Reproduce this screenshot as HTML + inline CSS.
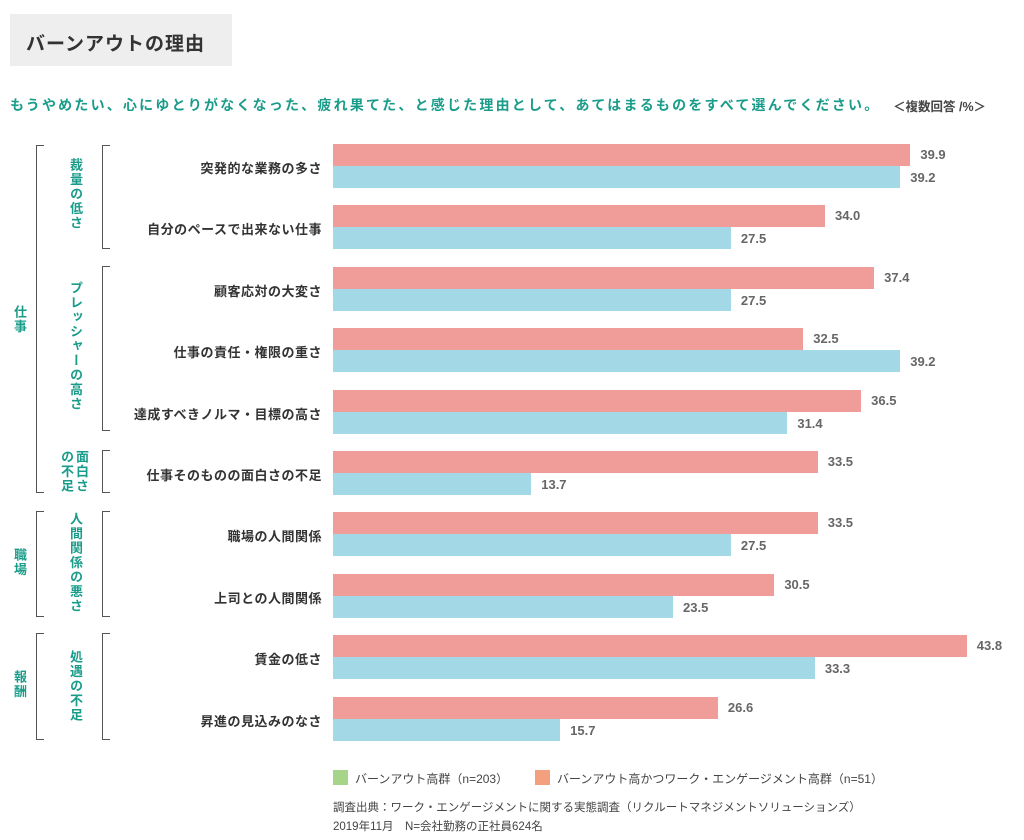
<!DOCTYPE html><html><head><meta charset="utf-8"><style>
body{margin:0;width:1024px;height:840px;background:#fff;font-family:"Liberation Sans","Noto Sans CJK JP",sans-serif;position:relative;overflow:hidden}
.a{position:absolute;white-space:nowrap}
.t{color:#1a9c8a;font-weight:bold}
.v{writing-mode:vertical-rl;text-orientation:upright;color:#1a9c8a;font-weight:bold;font-size:13px;letter-spacing:1.5px;position:absolute;line-height:15px}
.lab{position:absolute;right:702px;font-size:13px;font-weight:bold;color:#333;text-align:right;letter-spacing:0.5px}
.bar{position:absolute;left:333px;height:22px}
.p{background:#f09c98}.b{background:#a3d9e6}
.n{position:absolute;font-size:13px;font-weight:bold;color:#666}
.br{position:absolute;border:1.5px solid #555;border-right:none;width:7px}
</style></head><body>
<div class="a" style="left:10px;top:14px;width:222px;height:52px;background:#eeeeee"></div>
<div class="a" style="left:26px;top:29px;font-size:19px;font-weight:bold;color:#333;letter-spacing:1px">バーンアウトの理由</div>
<div class="a t" style="left:10px;top:95px;font-size:14px;letter-spacing:2.2px">もうやめたい、心にゆとりがなくなった、疲れ果てた、と感じた理由として、あてはまるものをすべて選んでください。</div>
<div class="a" style="left:893px;top:96px;font-size:12.5px;font-weight:bold;color:#444">＜複数回答 /%＞</div>

<div class="br" style="left:36px;top:145px;height:346px"></div>
<div class="br" style="left:36px;top:511px;height:104px"></div>
<div class="br" style="left:36px;top:633px;height:105px"></div>
<div class="br" style="left:102px;top:145px;height:102px"></div>
<div class="br" style="left:102px;top:266px;height:163px"></div>
<div class="br" style="left:102px;top:450px;height:41px"></div>
<div class="br" style="left:102px;top:511px;height:104px"></div>
<div class="br" style="left:102px;top:633px;height:105px"></div>

<div class="v" style="left:12px;top:305px">仕事</div>
<div class="v" style="left:12px;top:548px">職場</div>
<div class="v" style="left:12px;top:670px">報酬</div>
<div class="v" style="left:68px;top:158px">裁量の低さ</div>
<div class="v" style="left:68px;top:281px">プレッシャーの高さ</div>
<div class="v" style="left:59px;top:450px;height:46px">面白さの不足</div>
<div class="v" style="left:68px;top:512px">人間関係の悪さ</div>
<div class="v" style="left:68px;top:650px">処遇の不足</div>

<div id="rows"></div>
<script>
var d=[["突発的な業務の多さ",39.9,39.2],["自分のペースで出来ない仕事",34.0,27.5],["顧客応対の大変さ",37.4,27.5],["仕事の責任・権限の重さ",32.5,39.2],["達成すべきノルマ・目標の高さ",36.5,31.4],["仕事そのものの面白さの不足",33.5,13.7],["職場の人間関係",33.5,27.5],["上司との人間関係",30.5,23.5],["賃金の低さ",43.8,33.3],["昇進の見込みのなさ",26.6,15.7]];
var h="",s=14.47;
d.forEach(function(r,i){var y=144+i*61.4;
h+='<div class="lab" style="top:'+(y+14)+'px">'+r[0]+'</div>';
h+='<div class="bar p" style="top:'+y+'px;width:'+(r[1]*s)+'px"></div>';
h+='<div class="bar b" style="top:'+(y+22)+'px;width:'+(r[2]*s)+'px"></div>';
h+='<div class="n" style="top:'+(y+3)+'px;left:'+(333+r[1]*s+10)+'px">'+r[1].toFixed(1)+'</div>';
h+='<div class="n" style="top:'+(y+26)+'px;left:'+(333+r[2]*s+10)+'px">'+r[2].toFixed(1)+'</div>';});
document.getElementById("rows").innerHTML=h;
</script>
<div class="a" style="left:333px;top:770px;width:15px;height:15px;background:#a6d58a"></div>
<div class="a" style="left:355px;top:770px;font-size:12px;color:#444">バーンアウト高群（n=203）</div>
<div class="a" style="left:535px;top:770px;width:15px;height:15px;background:#f4a07f"></div>
<div class="a" style="left:557px;top:770px;font-size:12px;color:#444">バーンアウト高かつワーク・エンゲージメント高群（n=51）</div>
<div class="a" style="left:333px;top:799px;font-size:11.5px;color:#444">調査出典：ワーク・エンゲージメントに関する実態調査（リクルートマネジメントソリューションズ）</div>
<div class="a" style="left:333px;top:818px;font-size:11.5px;color:#444">2019年11月　N=会社勤務の正社員624名</div>
</body></html>
